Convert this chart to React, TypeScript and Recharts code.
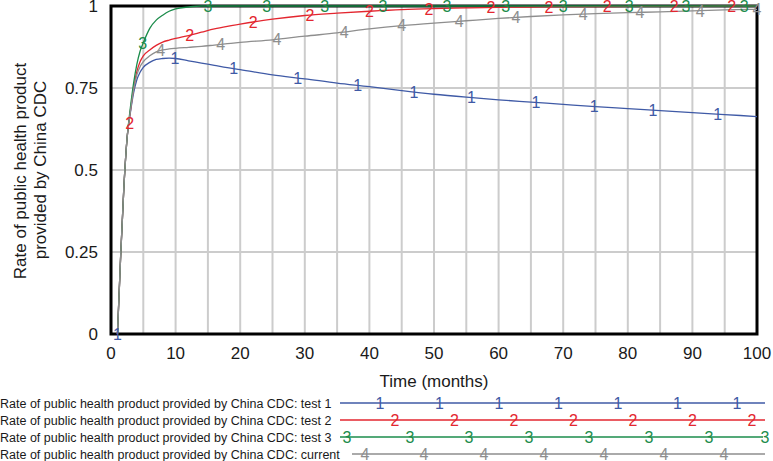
import {
  ComposedChart,
  Line,
  Scatter,
  XAxis,
  YAxis,
  CartesianGrid,
  ReferenceArea,
} from "recharts";

const FONT = '"Liberation Sans", Arial, Helvetica, sans-serif';

// sampled months (x) shared by the four runs
const months = [
  1, 1.5, 2, 2.5, 3, 3.5, 4, 4.5, 5, 6, 7, 8, 9, 10, 12, 14, 16, 18, 20, 25,
  30, 35, 40, 45, 50, 55, 60, 65, 70, 75, 80, 85, 90, 95, 100,
];

const test1 = [
  0, 0.24, 0.45, 0.6, 0.675, 0.735, 0.775, 0.798, 0.813, 0.828, 0.837, 0.84,
  0.841, 0.84, 0.833, 0.826, 0.819, 0.812, 0.806, 0.79, 0.778, 0.765, 0.754,
  0.742, 0.731, 0.722, 0.714, 0.707, 0.7, 0.693, 0.687, 0.681, 0.675, 0.669,
  0.663,
];
const test2 = [
  0, 0.24, 0.45, 0.6, 0.68, 0.75, 0.8, 0.83, 0.848, 0.866, 0.88, 0.89,
  0.896, 0.901, 0.91, 0.92, 0.93, 0.938, 0.945, 0.96, 0.971, 0.978, 0.984, 0.989,
  0.992, 0.994, 0.996, 0.997, 0.998, 0.998, 0.999, 0.999, 0.999, 1, 1,
];
const test3 = [
  0, 0.24, 0.45, 0.6, 0.69, 0.765, 0.822, 0.862, 0.888, 0.932, 0.957, 0.972,
  0.984, 0.991, 0.997, 1, 1, 1, 1, 1, 1, 1, 1, 1, 1, 1, 1, 1, 1, 1, 1, 1, 1, 1,
  1,
];
const current = [
  0, 0.24, 0.45, 0.6, 0.678, 0.745, 0.79, 0.815, 0.83, 0.848, 0.86, 0.866,
  0.869, 0.871, 0.874, 0.877, 0.881, 0.885, 0.889, 0.897, 0.908, 0.918, 0.93,
  0.94, 0.948, 0.955, 0.962, 0.968, 0.973, 0.977, 0.98, 0.982, 0.985, 0.988,
  0.99,
];

// where the run numbers sit on each curve
const marks1Months = [1, 9.9, 19, 28.9, 38.2, 46.9, 55.8, 65.8, 74.8, 83.9, 93.9];
const marks1Values = [0, 0.84, 0.809, 0.781, 0.757, 0.738, 0.721, 0.706, 0.693, 0.683, 0.671];
const marks2Months = [2.9, 12.2, 22, 30.8, 40, 49.2, 58.8, 67.8, 76.8, 87.2, 96.1];
const marks2Values = [0.643, 0.912, 0.952, 0.972, 0.984, 0.991, 0.995, 0.997, 0.998, 0.999, 1];
const marks3Months = [4.9, 15, 24.1, 33.1, 42.1, 52, 61.1, 70, 80.2, 89, 98];
const marks3Values = [0.886, 1, 1, 1, 1, 1, 1, 1, 1, 1, 1];
const marks4Months = [7.7, 17, 25.7, 36.1, 45, 53.9, 62.7, 73.1, 81.9, 91.2, 100];
const marks4Values = [0.864, 0.884, 0.898, 0.921, 0.94, 0.954, 0.966, 0.976, 0.98, 0.985, 0.99];

const xTicks = [0, 5, 10, 15, 20, 25, 30, 35, 40, 45, 50, 55, 60, 65, 70, 75, 80, 85, 90, 95, 100];
const yTicks = [0, 0.25, 0.5, 0.75, 1];

const legendNames = [
  "Rate of public health product provided by China CDC: test 1",
  "Rate of public health product provided by China CDC: test 2",
  "Rate of public health product provided by China CDC: test 3",
  "Rate of public health product provided by China CDC: current",
];

const BLUE = "#3f5aa6";
const RED = "#e3262f";
const GREEN = "#1b8c4b";
const GRAY = "#8e8e8e";

const table = months.map((m, i) => ({
  m,
  t1: test1[i],
  t2: test2[i],
  t3: test3[i],
  cur: current[i],
}));

const toPoints = (xs: number[], ys: number[]) => xs.map((m, i) => ({ m, v: ys[i] }));

const SERIES = [
  { key: "t1", digit: "1", color: BLUE, marks: toPoints(marks1Months, marks1Values) },
  { key: "t2", digit: "2", color: RED, marks: toPoints(marks2Months, marks2Values) },
  { key: "t3", digit: "3", color: GREEN, marks: toPoints(marks3Months, marks3Values) },
  { key: "cur", digit: "4", color: GRAY, marks: toPoints(marks4Months, marks4Values) },
];

const digitShape = (digit: string, color: string) => (props: any) => (
  <text
    x={props.cx}
    y={props.cy}
    dy="0.36em"
    textAnchor="middle"
    fontSize={16}
    fontFamily={FONT}
    fill={color}
  >
    {digit}
  </text>
);

// legend sample lines and where their run numbers go
const legendLayout = [
  { y: 403, x1: 340, x2: 765, digits: [380, 439.5, 499, 558.5, 618, 677.5, 737] },
  { y: 420, x1: 340, x2: 765, digits: [395, 454.5, 514, 573.5, 633, 692.5, 752] },
  { y: 437, x1: 340, x2: 763, digits: [347, 410, 469, 529, 589, 649, 709, 765] },
  { y: 454, x1: 352, x2: 765, digits: [365, 424, 484, 544, 604, 664, 724] },
];

export default function App() {
  return (
    <div style={{ position: "absolute", left: 0, top: 0, width: 773, height: 461, background: "#fff" }}>
      <ComposedChart
        width={773}
        height={461}
        data={table}
        margin={{ top: 6, right: 16, bottom: 0, left: 0 }}
      >
        <CartesianGrid stroke="#cccccc" strokeWidth={2} />
        <XAxis
          dataKey="m"
          type="number"
          domain={[0, 100]}
          ticks={xTicks}
          interval={0}
          tickFormatter={(v: number) => (v % 10 === 0 ? String(v) : "")}
          height={127}
          axisLine={false}
          tickLine={false}
          tickSize={6}
          tickMargin={7}
          tick={{ fontSize: 17, fill: "#1a1a1a", fontFamily: FONT }}
        />
        <YAxis
          type="number"
          domain={[0, 1]}
          ticks={yTicks}
          interval={0}
          width={111}
          axisLine={false}
          tickLine={false}
          tickSize={6}
          tickMargin={7}
          tick={{ fontSize: 17, fill: "#1a1a1a", fontFamily: FONT }}
        />
        <ReferenceArea
          x1={0}
          x2={100}
          y1={0}
          y2={1}
          fill="none"
          stroke="#000"
          strokeWidth={3}
          fillOpacity={0}
        />
        {SERIES.map((s) => (
          <Line
            key={s.key}
            dataKey={s.key}
            type="monotone"
            stroke={s.color}
            strokeWidth={1.3}
            dot={false}
            activeDot={false}
            isAnimationActive={false}
          />
        ))}
        {SERIES.map((s) => (
          <Scatter
            key={"mk" + s.key}
            data={s.marks}
            dataKey="v"
            shape={digitShape(s.digit, s.color)}
            isAnimationActive={false}
          />
        ))}
      </ComposedChart>

      <svg
        width={773}
        height={461}
        style={{ position: "absolute", left: 0, top: 0, pointerEvents: "none" }}
        fontFamily={FONT}
      >
        <text transform="translate(25.5,171) rotate(-90)" textAnchor="middle" fontSize={17} fill="#1a1a1a">
          Rate of public health product
        </text>
        <text transform="translate(45.5,170) rotate(-90)" textAnchor="middle" fontSize={17} fill="#1a1a1a">
          provided by China CDC
        </text>
        <text x={434} y={387} textAnchor="middle" fontSize={17} fill="#1a1a1a">
          Time (months)
        </text>
        {legendLayout.map((row, i) => (
          <g key={i}>
            <text x={0} y={row.y} dy="0.36em" fontSize={12.5} fill="#1a1a1a">
              {legendNames[i]}
            </text>
            <line x1={row.x1} x2={row.x2} y1={row.y} y2={row.y} stroke={SERIES[i].color} strokeWidth={1.3} />
            {row.digits.map((dx, j) => (
              <text
                key={j}
                x={dx}
                y={row.y}
                dy="0.36em"
                textAnchor="middle"
                fontSize={16}
                fill={SERIES[i].color}
              >
                {SERIES[i].digit}
              </text>
            ))}
          </g>
        ))}
      </svg>
    </div>
  );
}
